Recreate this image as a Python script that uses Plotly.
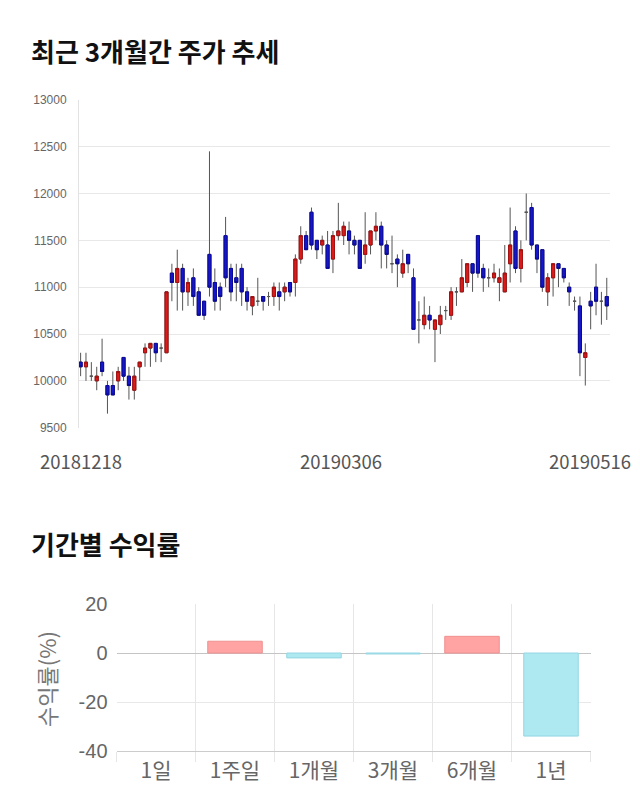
import plotly.graph_objects as go
import pandas as pd

# ---------------- data ----------------
holidays = ["2018-12-25", "2018-12-31", "2019-01-01", "2019-02-04", "2019-02-05",
            "2019-02-06", "2019-03-01", "2019-05-01", "2019-05-06"]
dates = [d.strftime("%Y%m%d") for d in pd.bdate_range("2018-12-18", "2019-05-16")
         if d.strftime("%Y-%m-%d") not in holidays]

open_ = [10200, 10150, 10050, 10000, 10200, 9950, 9950, 10000, 10250, 10050,
         9900, 10150, 10300, 10350, 10400, 10350, 10300, 11150, 11050, 11200,
         10950, 11100, 10950, 10850, 11350, 11050, 11000, 11550, 11200, 11100,
         11200, 10950, 10800, 10850, 10900, 10900, 10900, 10950, 10950, 11050,
         11050, 11300, 11550, 11800, 11500, 11450, 11450, 11300, 11550, 11550,
         11600, 11500, 11500, 11350, 11450, 11600, 11650, 11450, 11250, 11300,
         11150, 11350, 11100, 10650, 10600, 10700, 10550, 10600, 10750, 10700,
         10950, 10950, 11050, 11250, 11550, 11200, 11100, 11100, 11050, 10950,
         11250, 11600, 11200, 11800, 11850, 11450, 11400, 10950, 11100, 11250,
         11200, 11000, 10850, 10800, 10250, 10850, 11000, 10850, 10900]
close_ = [10150, 10200, 10050, 10050, 10100, 9850, 9850, 10100, 10050, 9950,
          10050, 10200, 10350, 10400, 10300, 10350, 10950, 11050, 11200, 10950,
          11050, 10900, 10700, 10700, 11000, 10850, 10900, 11100, 10950, 11050,
          10950, 10850, 10900, 10850, 10850, 10900, 11000, 10900, 11000, 10950,
          11300, 11550, 11400, 11450, 11400, 11500, 11200, 11550, 11600, 11650,
          11500, 11450, 11200, 11450, 11600, 11650, 11450, 11350, 11250, 11250,
          11250, 11250, 10550, 10650, 10700, 10650, 10650, 10700, 10750, 10950,
          10950, 11100, 11250, 11150, 11150, 11100, 11100, 11150, 11100, 11150,
          11450, 11200, 11400, 11800, 11450, 11300, 11000, 11100, 11250, 11200,
          11100, 10950, 10850, 10300, 10300, 10800, 10850, 10850, 10800]
high_ = [10300, 10300, 10200, 10150, 10450, 10000, 10100, 10150, 10250, 10150,
         10150, 10200, 10400, 10400, 10400, 10400, 10950, 11250, 11400, 11250,
         11100, 11200, 11000, 10850, 12450, 11200, 11050, 11750, 11250, 11250,
         11250, 11000, 10900, 11100, 10900, 10950, 11050, 11050, 11050, 11050,
         11350, 11650, 11600, 11850, 11500, 11550, 11600, 11600, 11900, 11700,
         11700, 11550, 11500, 11800, 11600, 11800, 11700, 11500, 11550, 11350,
         11400, 11350, 11200, 10850, 10900, 10800, 10650, 10800, 10800, 11000,
         11000, 11300, 11250, 11250, 11550, 11250, 11200, 11250, 11200, 11450,
         11850, 11650, 11500, 12000, 11900, 11450, 11400, 11150, 11250, 11250,
         11200, 11050, 10900, 10900, 10400, 10950, 11250, 10950, 11100]
low_ = [10050, 10000, 10000, 9900, 10050, 9650, 9850, 9900, 10000, 9800,
        9800, 10000, 10150, 10150, 10200, 10200, 10300, 10850, 10750, 10750,
        10800, 10800, 10700, 10650, 10900, 10750, 10750, 11000, 10850, 10850,
        10800, 10750, 10700, 10800, 10750, 10800, 10800, 10750, 10850, 10900,
        10900, 11250, 11400, 11400, 11300, 11350, 11200, 11150, 11500, 11450,
        11350, 11350, 11200, 11250, 11350, 11500, 11200, 11200, 11150, 11000,
        11100, 11150, 10550, 10400, 10550, 10550, 10200, 10500, 10650, 10650,
        10800, 10950, 11000, 10950, 11100, 10950, 11000, 11050, 10850, 10950,
        11050, 11150, 11050, 11500, 11400, 11150, 10950, 10800, 10900, 11000,
        11050, 10800, 10750, 10050, 9950, 10550, 10700, 10600, 10650]

price_ticks = [9500, 10000, 10500, 11000, 11500, 12000, 12500, 13000]
date_labels = ["20181218", "20190306", "20190516"]

periods = ["1일", "1주일", "1개월", "3개월", "6개월", "1년"]
returns = [0.0, 4.8, -2.0, -0.4, 6.8, -33.9]
return_ticks = [-40, -20, 0, 20]
return_tick_text = ["-40", "-20", "0", "20"]

# ---------------- figure ----------------
W, H = 640, 810
KR = "Noto Sans CJK KR"
RED, RED_EDGE = "#dc1a1a", "#a51010"
BLUE, BLUE_EDGE = "#1616cc", "#0a0a96"


def px(x):
    return x / W


def py(y):
    return 1 - y / H


fig = go.Figure()

# wicks (full high-low range), dark gray
fig.add_trace(go.Candlestick(
    x=dates, open=open_, high=high_, low=low_, close=close_,
    increasing=dict(fillcolor="#444444", line=dict(color="#555555", width=1)),
    decreasing=dict(fillcolor="#444444", line=dict(color="#555555", width=1)),
    whiskerwidth=0, showlegend=False, hoverinfo="skip", xaxis="x", yaxis="y",
))
# bodies (open-close range), coloured on top; flat (doji) days keep the gray mark
b_open = [o if o != c else None for o, c in zip(open_, close_)]
b_close = [c if o != c else None for o, c in zip(open_, close_)]
b_top = [max(o, c) if o != c else None for o, c in zip(open_, close_)]
b_bot = [min(o, c) if o != c else None for o, c in zip(open_, close_)]
fig.add_trace(go.Candlestick(
    x=dates, open=b_open, high=b_top, low=b_bot, close=b_close,
    increasing=dict(fillcolor=RED, line=dict(color=RED_EDGE, width=1)),
    decreasing=dict(fillcolor=BLUE, line=dict(color=BLUE_EDGE, width=1)),
    whiskerwidth=0, showlegend=False, xaxis="x", yaxis="y",
))

bar_colors = ["#ffa3a3" if v >= 0 else "#aee9f2" for v in returns]
bar_lines = ["#f09090" if v >= 0 else "#93d6e2" for v in returns]
bar_line_w = [1 if v != 0 else 0 for v in returns]
fig.add_trace(go.Bar(
    x=periods, y=returns,
    marker=dict(color=bar_colors, line=dict(color=bar_lines, width=bar_line_w)),
    showlegend=False, xaxis="x2", yaxis="y2",
))

annotations = [
    dict(text="<b>최근 3개월간 주가 추세</b>", x=px(29), y=py(50), xref="paper", yref="paper",
         xanchor="left", yanchor="middle", showarrow=False,
         font=dict(family=KR, size=26, color="#111111")),
    dict(text="<b>기간별 수익률</b>", x=px(29), y=py(543), xref="paper", yref="paper",
         xanchor="left", yanchor="middle", showarrow=False,
         font=dict(family=KR, size=26, color="#111111")),
    dict(text="수익률(%)", x=px(46), y=py(679), xref="paper", yref="paper",
         xanchor="center", yanchor="middle", showarrow=False, textangle=-90,
         font=dict(family=KR, size=22, color="#777777")),
]
anchors = ["center", "center", "right"]
shifts = [0, -3, 26]
for d, a, s in zip(date_labels, anchors, shifts):
    annotations.append(dict(text=d, x=dates.index(d), xref="x", y=py(461), yref="paper",
                            xanchor=a, yanchor="middle", xshift=s, showarrow=False,
                            font=dict(family=KR, size=18.5, color="#555555")))

fig.update_layout(
    width=W, height=H, margin=dict(l=0, r=0, t=0, b=0, autoexpand=False),
    paper_bgcolor="white", plot_bgcolor="white",
    font=dict(family=KR, color="#666666"),
    bargap=0.31, boxgap=0.18, boxmode="overlay",
    xaxis=dict(domain=[px(79), px(610)], type="category", range=[-0.3, 98.6],
               showticklabels=False, showgrid=False, zeroline=False,
               rangeslider=dict(visible=False), showline=False, fixedrange=True),
    yaxis=dict(domain=[py(427.7), py(99.8)], range=[9500, 13000], tickvals=price_ticks,
               tickformat="d", automargin=False,
               showgrid=True, gridcolor="#e8e8e8", gridwidth=1, zeroline=False,
               showline=True, linecolor="#e2e2e2", linewidth=1,
               tickfont=dict(family="Liberation Sans", size=12, color="#666666"),
               ticklabelstandoff=9, anchor="x"),
    xaxis2=dict(domain=[px(116.5), px(590.5)], type="category", anchor="y2",
                automargin=False,
                showgrid=True, gridcolor="#e6e6e6", tickson="boundaries",
                ticks="outside", ticklen=10, tickcolor="#e6e6e6",
                showline=True, linecolor="#cccccc", linewidth=1,
                tickfont=dict(family=KR, size=21, color="#666666"), ticklabelstandoff=1),
    yaxis2=dict(domain=[py(751), py(604)], range=[-40, 20], tickvals=return_ticks,
                ticktext=return_tick_text, automargin=False,
                anchor="x2", showgrid=True, gridcolor="#e8e8e8",
                zeroline=True, zerolinecolor="#c4c4c4", zerolinewidth=1,
                tickfont=dict(family="Liberation Sans", size=20, color="#666666"),
                ticklabelstandoff=8),
    annotations=annotations,
)

fig.write_html("out.html", config={"displayModeBar": False},
               post_script="document.body.style.margin='0';")
